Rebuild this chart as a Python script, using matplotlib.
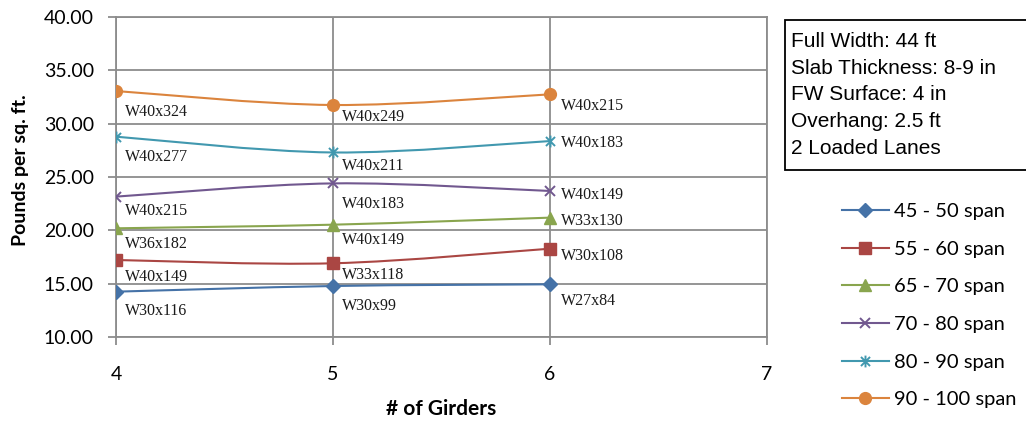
import numpy as np
import matplotlib.pyplot as plt
from matplotlib.path import Path
from matplotlib.patches import PathPatch, Rectangle
from matplotlib.lines import Line2D

girders = [4, 5, 6]
spans = ["45 - 50 span", "55 - 60 span", "65 - 70 span",
         "70 - 80 span", "80 - 90 span", "90 - 100 span"]
psf_45_50 = [14.25, 14.78, 14.94]
psf_55_60 = [17.22, 16.91, 18.28]
psf_65_70 = [20.19, 20.53, 21.19]
psf_70_80 = [23.16, 24.40, 23.69]
psf_80_90 = [28.78, 27.30, 28.37]
psf_90_100 = [33.06, 31.75, 32.75]
sections_45_50 = ["W30x116", "W30x99", "W27x84"]
sections_55_60 = ["W40x149", "W33x118", "W30x108"]
sections_65_70 = ["W36x182", "W40x149", "W33x130"]
sections_70_80 = ["W40x215", "W40x183", "W40x149"]
sections_80_90 = ["W40x277", "W40x211", "W40x183"]
sections_90_100 = ["W40x324", "W40x249", "W40x215"]
notes = ["Full Width: 44 ft", "Slab Thickness: 8-9 in", "FW Surface: 4 in",
         "Overhang: 2.5 ft", "2 Loaded Lanes"]

series = [psf_45_50, psf_55_60, psf_65_70, psf_70_80, psf_80_90, psf_90_100]
sections = [sections_45_50, sections_55_60, sections_65_70,
            sections_70_80, sections_80_90, sections_90_100]

colors = ["#4572A7", "#AA4643", "#89A54E", "#71588F", "#4198AF", "#DB843D"]

# asterisk marker: an x with a vertical bar through it
star = Path([(-1, -1), (1, 1), (-1, 1), (1, -1), (0, -1.3), (0, 1.3)],
            [Path.MOVETO, Path.LINETO, Path.MOVETO, Path.LINETO,
             Path.MOVETO, Path.LINETO])
styles = [
    dict(marker="D", ms=7.5, mfc=colors[0], mec=colors[0]),
    dict(marker="s", ms=8.5, mfc=colors[1], mec=colors[1]),
    dict(marker="^", ms=9, mfc=colors[2], mec=colors[2]),
    dict(marker="x", ms=7.5, mfc="none", mec=colors[3], mew=1.4),
    dict(marker=star, ms=8.5, mfc="none", mec=colors[4], mew=1.4),
    dict(marker="o", ms=8.5, mfc=colors[5], mec=colors[5]),
]

# label offsets (pixels) from each point
label_dy = [
    [-19, -20, -17],
    [-17, -12, -7],
    [-16, -15, -3],
    [-14, -21, -4],
    [-20, -14, -2],
    [-21, -12, -12],
]
label_dx = [9, 9, 11]


def smooth_path(xs, ys):
    # cubic Bezier through the points, spreadsheet-style smoothing
    pts = np.column_stack([xs, ys]).astype(float)
    ext = np.vstack([pts[0], pts, pts[-1]])
    verts = [tuple(pts[0])]
    codes = [Path.MOVETO]
    for i in range(len(pts) - 1):
        p0, p1, p2, p3 = ext[i], ext[i + 1], ext[i + 2], ext[i + 3]
        c1 = p1 + (p2 - p0) / 6
        c2 = p2 - (p3 - p1) / 6
        verts += [tuple(c1), tuple(c2), tuple(p2)]
        codes += [Path.CURVE4] * 3
    return Path(verts, codes)


W, H = 1026, 423
fig = plt.figure(figsize=(W / 100, H / 100), dpi=100)
ax = fig.add_axes([116 / W, 1 - 337 / H, 651 / W, 320 / H])

handles = []
for vals, secs, col, st, dys in zip(series, sections, colors, styles, label_dy):
    ax.add_patch(PathPatch(smooth_path(girders, vals), fill=False,
                           edgecolor=col, lw=1.5, zorder=3))
    ax.plot(girders, vals, linestyle="none", zorder=4, **st)
    for x, v, s, dx, dy in zip(girders, vals, secs, label_dx, dys):
        ax.annotate(s, (x, v), xytext=(dx, dy), textcoords="offset pixels",
                    ha="left", va="center", fontsize=11.5,
                    family="Liberation Serif", color="#1a1a1a")
    handles.append(Line2D([], [], color=col, lw=1.5, **st))

ax.set_xlim(4, 7)
ax.set_ylim(10, 40)
ax.set_xticks([4, 5, 6, 7])
ax.set_yticks(np.arange(10, 41, 5))
ax.set_yticklabels([f"{v:.2f}" for v in np.arange(10, 41, 5)])
ax.grid(True, color="#8C8C8C", lw=1.3)
ax.set_axisbelow(True)
for sp in ax.spines.values():
    sp.set_color("#8C8C8C")
    sp.set_linewidth(1.3)
ax.tick_params(axis="both", colors="#8C8C8C", width=1.3, length=6,
               labelcolor="black", labelsize=14)
ax.tick_params(axis="x", pad=15)
ax.tick_params(axis="y", pad=10)
for lab in ax.get_xticklabels() + ax.get_yticklabels():
    lab.set_family("Lato")

ax.set_xlabel("# of Girders", fontsize=15, fontweight="bold", family="Lato")
ax.set_ylabel("Pounds per sq. ft.", fontsize=14, fontweight="bold",
              family="Lato")
ax.xaxis.set_label_coords(0.5, -0.195)
ax.yaxis.set_label_coords(-0.133, 0.52)

# notes box, running off the right edge of the figure
fig.patches.append(Rectangle((785 / W, 1 - 170 / H), 260 / W, 150 / H,
                             transform=fig.transFigure, fc="white",
                             ec="black", lw=1.3, zorder=1))
for i, line in enumerate(notes):
    fig.text(791 / W, 1 - (47 + i * 26.75) / H, line, ha="left",
             va="baseline", fontsize=15, family="Liberation Sans", zorder=2)

fig.legend(handles, spans, loc="upper left", bbox_to_anchor=(0.813, 0.539),
           frameon=False, prop={"family": "Lato", "size": 14.5},
           handlelength=2.3, labelspacing=1.02, handletextpad=0.25,
           borderaxespad=0)

fig.savefig("out.png", dpi=100)
